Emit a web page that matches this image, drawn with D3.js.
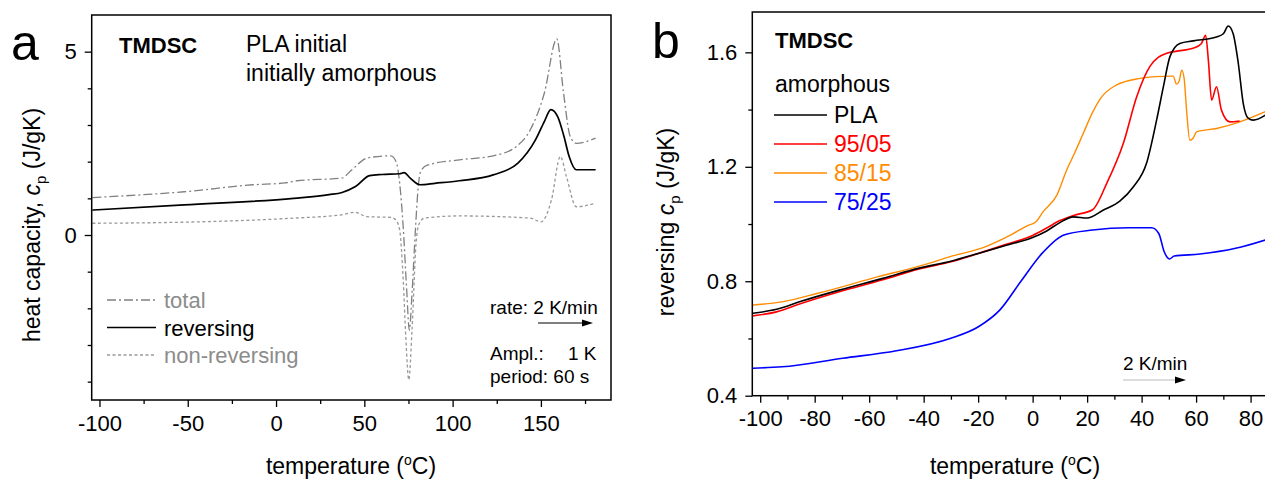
<!DOCTYPE html>
<html>
<head>
<meta charset="utf-8">
<script src="https://cdn.jsdelivr.net/npm/d3@7"></script>
<style>
  body { margin: 0; background: #fff; }
  svg { font-family: Arial, "Liberation Sans", sans-serif; }
</style>
</head>
<body>
<div id="chart"></div>
<script>
// ---- panel a : TMDSC of PLA, total / reversing / non-reversing ----
const aTotalT = [-104, -52, -13, 5, 12, 37, 43, 51.6, 65, 68, 70, 72, 74, 75.5, 77, 79, 80.5, 82, 86, 104, 123, 136, 144, 152, 159, 162.8, 166.6, 170, 181]
const aTotalCp = [1.02, 1.18, 1.37, 1.42, 1.48, 1.55, 1.78, 2.10, 2.16, 2.0, 1.42, 0.23, -1.5, -2.6, -1.6, 0.2, 1.3, 1.75, 1.91, 2.05, 2.16, 2.41, 2.87, 3.88, 5.35, 3.88, 2.69, 2.50, 2.64]
const aRevT = [-104, -52, 10, 30, 37.4, 45, 53, 60, 70, 72.5, 76, 81.4, 90, 103.8, 123, 137, 147, 152, 155.6, 159.5, 163, 166, 170, 181]
const aRevCp = [0.68, 0.82, 1.0, 1.1, 1.16, 1.32, 1.62, 1.65, 1.67, 1.70, 1.55, 1.37, 1.41, 1.48, 1.64, 1.96, 2.6, 3.1, 3.42, 3.23, 2.7, 2.14, 1.78, 1.78]
const aNonT = [-104, -52, 10, 37, 44.5, 51.6, 65, 68, 70, 72, 73.5, 75.2, 77, 79.3, 81, 84, 104, 144, 150, 156, 161, 164.5, 170, 181]
const aNonCp = [0.32, 0.35, 0.46, 0.55, 0.62, 0.50, 0.48, 0.4, 0.14, -1.2, -2.8, -3.95, -2.6, -0.22, 0.3, 0.46, 0.52, 0.46, 0.36, 0.96, 2.14, 1.59, 0.77, 0.87]
const aXTicks = [-100, -50, 0, 50, 100, 150]
const aXMinor = [-75, -25, 25, 75, 125, 175]
const aYTicks = [0, 5]
const aYMinor = [-4, -3, -2, -1, 1, 2, 3, 4]
const aLegend = ['total', 'reversing', 'non-reversing']

// ---- panel b : reversing cp of the blends ----
const bNames = ['PLA', '95/05', '85/15', '75/25']
const bPlaT = [-102.7, -94, -85, -71, -55, -42, -30, -20, -10, 0, 5, 10, 15, 20, 26, 32, 37, 41.8, 45.5, 48, 50.4, 54, 59, 67.5, 70, 71.8, 73.6, 75.5, 77.3, 79.1, 81, 86]
const bPlaCp = [0.688, 0.702, 0.73, 0.769, 0.81, 0.845, 0.87, 0.897, 0.925, 0.953, 0.975, 1.005, 1.025, 1.021, 1.049, 1.08, 1.13, 1.212, 1.363, 1.48, 1.585, 1.631, 1.64, 1.654, 1.665, 1.692, 1.665, 1.561, 1.422, 1.37, 1.363, 1.384]
const b95T = [-102.7, -94, -85, -71, -55, -42, -30, -20, -10, 0, 5, 10, 15, 22, 27.2, 33.3, 38.2, 43, 49.2, 55, 58.9, 61.9, 63.5, 64.5, 65.7, 67.5, 69.3, 72.4, 76]
const b95Cp = [0.679, 0.693, 0.722, 0.763, 0.805, 0.842, 0.868, 0.897, 0.928, 0.96, 0.985, 1.012, 1.03, 1.05, 1.142, 1.282, 1.445, 1.55, 1.597, 1.607, 1.614, 1.63, 1.66, 1.573, 1.433, 1.48, 1.398, 1.357, 1.36]
const b85T = [-102.7, -92, -78.8, -56.6, -40, -30.3, -17.2, -8, -1.5, 1, 4, 8.9, 12.5, 15.5, 18.6, 22, 25, 30.8, 39.4, 45, 51.6, 52.8, 53.8, 54.7, 55.6, 56.5, 57.7, 58.9, 60.2, 67.5, 76.1, 86]
const b85Cp = [0.717, 0.728, 0.758, 0.816, 0.857, 0.886, 0.921, 0.962, 0.996, 1.006, 1.045, 1.101, 1.189, 1.25, 1.317, 1.39, 1.44, 1.486, 1.509, 1.515, 1.517, 1.489, 1.50, 1.538, 1.51, 1.398, 1.293, 1.30, 1.322, 1.334, 1.357, 1.395]
const b75T = [-102.7, -92, -69.7, -50, -30.3, -19.9, -12, -4.3, 3.7, 11.5, 22, 35.2, 43.7, 46.3, 48.3, 50.2, 52, 61.4, 74.5, 86]
const b75Cp = [0.496, 0.501, 0.531, 0.557, 0.60, 0.641, 0.70, 0.80, 0.90, 0.962, 0.979, 0.987, 0.987, 0.967, 0.903, 0.878, 0.888, 0.895, 0.915, 0.946]
const bXTicks = [-100, -80, -60, -40, -20, 0, 20, 40, 60, 80]
const bXMinor = [-90, -70, -50, -30, -10, 10, 30, 50, 70]
const bYTicks = [0.4, 0.8, 1.2, 1.6]
const bYMinor = [0.6, 1.0, 1.4]
const bColors = ['#000000', '#ff0000', '#ff8c00', '#0000ff']

const svg = d3.select('#chart').append('svg').attr('width', 1265).attr('height', 481)

function zip (t, v) {
  return t.map((d, i) => ({ x: d, y: v[i] }))
}

// 画坐标框和刻度 (标签用普通减号)
function drawAxes (x, y, xt, xm, yt, ym, yfmt) {
  const r = x.range(), h = y.range()
  svg.append('g').attr('transform', 'translate(0,' + h[0] + ')')
    .call(d3.axisBottom(x).tickValues(xt).tickSize(7).tickPadding(8).tickSizeOuter(0).tickFormat(d => String(d)))
  svg.append('g').attr('transform', 'translate(0,' + h[0] + ')')
    .call(d3.axisBottom(x).tickValues(xm).tickSize(4).tickFormat('').tickSizeOuter(0))
  svg.append('g').attr('transform', 'translate(' + r[0] + ',0)')
    .call(d3.axisLeft(y).tickValues(yt).tickSize(7).tickPadding(8).tickSizeOuter(0).tickFormat(yfmt))
  svg.append('g').attr('transform', 'translate(' + r[0] + ',0)')
    .call(d3.axisLeft(y).tickValues(ym).tickSize(4).tickFormat('').tickSizeOuter(0))
  svg.selectAll('.domain').remove()
  svg.selectAll('.tick line').attr('stroke', '#000').attr('stroke-width', 1.3)
  svg.selectAll('.tick text').attr('font-size', 22).attr('font-family', 'Arial, "Liberation Sans", sans-serif').attr('fill', '#000')
  svg.append('rect').attr('x', r[0]).attr('y', h[1]).attr('width', r[1] - r[0]).attr('height', h[0] - h[1])
    .attr('fill', 'none').attr('stroke', '#000').attr('stroke-width', 1.5)
}

function tempTitle (cx) {
  const t = svg.append('text').attr('x', cx).attr('y', 474).attr('text-anchor', 'middle').attr('font-size', 23)
  t.append('tspan').text('temperature (')
  t.append('tspan').text('o').attr('font-size', 14).attr('dy', -9)
  t.append('tspan').text('C)').attr('dy', 9)
}

function arrow (x1, x2, y, col) {
  svg.append('line').attr('x1', x1).attr('x2', x2 - 8).attr('y1', y).attr('y2', y).attr('stroke', col).attr('stroke-width', 1.2)
  svg.append('path').attr('d', 'M' + x2 + ',' + y + 'L' + (x2 - 11) + ',' + (y - 3.5) + 'L' + (x2 - 11) + ',' + (y + 3.5) + 'Z').attr('fill', '#000')
}

// ================= panel a =================
const xa = d3.scaleLinear().domain([-104.4, 189.7]).range([91.7, 611])
const ya = d3.scaleLinear().domain([-4.5, 6.0]).range([400, 15])
const lineA = d3.line().x(d => xa(d.x)).y(d => ya(d.y)).curve(d3.curveMonotoneX)

svg.append('path').datum(zip(aTotalT, aTotalCp)).attr('d', lineA).attr('fill', 'none')
  .attr('stroke', '#808080').attr('stroke-width', 1.3).attr('stroke-dasharray', '9,3,2,3')
svg.append('path').datum(zip(aNonT, aNonCp)).attr('d', lineA).attr('fill', 'none')
  .attr('stroke', '#999').attr('stroke-width', 1.3).attr('stroke-dasharray', '3,2.5')
svg.append('path').datum(zip(aRevT, aRevCp)).attr('d', lineA).attr('fill', 'none')
  .attr('stroke', '#000').attr('stroke-width', 1.7)

drawAxes(xa, ya, aXTicks, aXMinor, aYTicks, aYMinor, d => String(d))

svg.append('text').text('a').attr('x', 11).attr('y', 60).attr('font-size', 50)
svg.append('text').text('TMDSC').attr('x', 119).attr('y', 53).attr('font-size', 22).attr('font-weight', 'bold')
svg.append('text').text('PLA initial').attr('x', 246).attr('y', 52).attr('font-size', 23)
svg.append('text').text('initially amorphous').attr('x', 246).attr('y', 81).attr('font-size', 23)

// 图例
const legStyle = [
  { c: '#808080', dash: '9,3,2,3', w: 1.3, tc: '#8c8c8c' },
  { c: '#000', dash: null, w: 1.7, tc: '#000' },
  { c: '#999', dash: '3,2.5', w: 1.3, tc: '#8c8c8c' }
]
aLegend.forEach((name, i) => {
  const y = 300 + i * 27.5
  svg.append('line').attr('x1', 107).attr('x2', 156).attr('y1', y).attr('y2', y)
    .attr('stroke', legStyle[i].c).attr('stroke-width', legStyle[i].w).attr('stroke-dasharray', legStyle[i].dash)
  svg.append('text').text(name).attr('x', 164).attr('y', y + 8).attr('font-size', 22).attr('fill', legStyle[i].tc)
})

svg.append('text').text('rate: 2 K/min').attr('x', 490).attr('y', 314).attr('font-size', 19)
arrow(538, 593, 323, '#000')
svg.append('text').text('Ampl.:').attr('x', 490).attr('y', 360).attr('font-size', 19)
svg.append('text').text('1 K').attr('x', 568).attr('y', 360).attr('font-size', 19)
svg.append('text').text('period: 60 s').attr('x', 490).attr('y', 383).attr('font-size', 19)

tempTitle(351)
const yta = svg.append('text').attr('transform', 'translate(40,225) rotate(-90)').attr('text-anchor', 'middle').attr('font-size', 23)
yta.append('tspan').text('heat capacity, ')
yta.append('tspan').text('c').attr('font-style', 'italic')
yta.append('tspan').text('p').attr('font-size', 15).attr('dy', 6)
yta.append('tspan').text(' (J/gK)').attr('dy', -6)

// ================= panel b =================
const xb = d3.scaleLinear().domain([-102.9, 93]).range([752.3, 1286])
const yb = d3.scaleLinear().domain([0.4, 1.741]).range([395.7, 12])
const lineB = d3.line().x(d => xb(d.x)).y(d => yb(d.y)).curve(d3.curveMonotoneX)

svg.append('clipPath').attr('id', 'clipb').append('rect')
  .attr('x', 752.3).attr('y', 12).attr('width', 1286 - 752.3).attr('height', 395.7 - 12)

const bSeries = [zip(bPlaT, bPlaCp), zip(b95T, b95Cp), zip(b85T, b85Cp), zip(b75T, b75Cp)]
const drawOrder = [3, 2, 1, 0]
drawOrder.forEach(i => {
  svg.append('path').datum(bSeries[i]).attr('d', lineB).attr('fill', 'none')
    .attr('clip-path', 'url(#clipb)')
    .attr('stroke', bColors[i]).attr('stroke-width', i === 2 ? 1.4 : 1.6)
})

drawAxes(xb, yb, bXTicks, bXMinor, bYTicks, bYMinor, d => d.toFixed(1))

svg.append('text').text('b').attr('x', 652).attr('y', 58).attr('font-size', 50)
svg.append('text').text('TMDSC').attr('x', 775).attr('y', 48).attr('font-size', 22).attr('font-weight', 'bold')
svg.append('text').text('amorphous').attr('x', 775).attr('y', 92).attr('font-size', 23)
bNames.forEach((name, i) => {
  const y = 115 + i * 29
  svg.append('line').attr('x1', 774).attr('x2', 827).attr('y1', y).attr('y2', y)
    .attr('stroke', bColors[i]).attr('stroke-width', i === 2 ? 1.4 : 1.6)
  svg.append('text').text(name).attr('x', 834).attr('y', y + 8).attr('font-size', 23).attr('fill', bColors[i])
})

svg.append('text').text('2 K/min').attr('x', 1123).attr('y', 370).attr('font-size', 19)
arrow(1123, 1186, 380, '#bbb')

tempTitle(1015)
const ytb = svg.append('text').attr('transform', 'translate(674,222) rotate(-90)').attr('text-anchor', 'middle').attr('font-size', 23)
ytb.append('tspan').text('reversing ')
ytb.append('tspan').text('c').attr('font-style', 'italic')
ytb.append('tspan').text('p').attr('font-size', 15).attr('dy', 6)
ytb.append('tspan').text(' (J/gK)').attr('dy', -6)
</script>
</body>
</html>
